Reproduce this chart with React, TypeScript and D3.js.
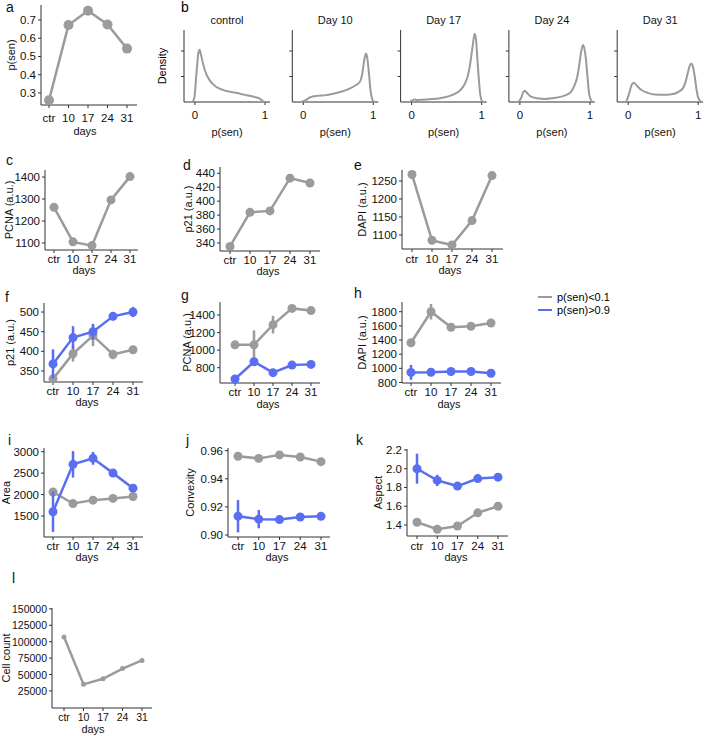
import React from "react";
import * as d3 from "d3";

// ---------------- data ----------------
const days = ["ctr", "10", "17", "24", "31"];

const pSen = [0.26, 0.672, 0.75, 0.675, 0.543];
const pcnaAll = [1262, 1105, 1088, 1296, 1402];
const p21All = [335, 384, 386, 433, 426];
const dapiAll = [1268, 1085, 1072, 1140, 1265];

const p21Low = [330, 394, 440, 392, 404];
const p21LowErr = [4, 20, 27, 12, 6];
const p21High = [368, 435, 450, 489, 500];
const p21HighErr = [37, 29, 20, 10, 13];

const pcnaLow = [1060, 1060, 1290, 1475, 1450];
const pcnaLowErr = [10, 165, 100, 15, 15];
const pcnaHigh = [672, 868, 744, 830, 838];
const pcnaHighErr = [8, 25, 12, 10, 10];

const dapiLow = [1362, 1800, 1580, 1595, 1640];
const dapiLowErr = [15, 110, 35, 15, 15];
const dapiHigh = [943, 945, 955, 955, 930];
const dapiHighErr = [105, 35, 15, 15, 15];

const areaLow = [2060, 1790, 1870, 1910, 1955];
const areaLowErr = [20, 80, 30, 30, 30];
const areaHigh = [1600, 2705, 2845, 2500, 2150];
const areaHighErr = [470, 310, 150, 90, 90];

const convLow = [0.956, 0.9545, 0.957, 0.9555, 0.9522];
const convLowErr = [0.0005, 0.0022, 0.0008, 0.0005, 0.0005];
const convHigh = [0.9134, 0.9113, 0.911, 0.9128, 0.9133];
const convHighErr = [0.0115, 0.0065, 0.002, 0.0008, 0.0012];

const aspectLow = [1.43, 1.355, 1.39, 1.53, 1.6];
const aspectLowErr = [0.01, 0.01, 0.01, 0.01, 0.01];
const aspectHigh = [2.0, 1.875, 1.815, 1.895, 1.91];
const aspectHighErr = [0.16, 0.06, 0.015, 0.015, 0.015];

const cellCount = [107000, 35000, 43500, 59000, 71500];

const densityTitles = ["control", "Day 10", "Day 17", "Day 24", "Day 31"];
const densityControl: [number, number][] = [[-0.04, 0], [-0.01, 0.3], [0.02, 2.2], [0.05, 3.9], [0.065, 4.1], [0.09, 3.6], [0.12, 2.9], [0.16, 2.2], [0.21, 1.7], [0.3, 1.2], [0.4, 0.95], [0.5, 0.8], [0.6, 0.7], [0.7, 0.58], [0.8, 0.47], [0.88, 0.35], [0.93, 0.25], [0.97, 0.08], [1.0, 0]];
const densityDay10: [number, number][] = [[-0.03, 0], [0.02, 0.1], [0.1, 0.37], [0.2, 0.48], [0.3, 0.52], [0.43, 0.65], [0.55, 0.82], [0.67, 1.07], [0.76, 1.35], [0.81, 1.6], [0.845, 2.3], [0.87, 3.3], [0.895, 3.8], [0.915, 3.4], [0.935, 2.4], [0.96, 0.9], [0.98, 0.3], [1.01, 0]];
const densityDay17: [number, number][] = [[-0.03, 0], [0.0, 0.1], [0.04, 0.2], [0.08, 0.15], [0.13, 0.18], [0.25, 0.22], [0.41, 0.3], [0.6, 0.6], [0.7, 0.95], [0.75, 1.33], [0.8, 2.0], [0.83, 2.77], [0.87, 4.3], [0.9, 5.35], [0.92, 4.9], [0.94, 3.3], [0.96, 1.8], [0.98, 0.6], [1.01, 0]];
const densityDay24: [number, number][] = [[-0.02, 0], [0.02, 0.35], [0.05, 0.8], [0.07, 0.89], [0.1, 0.72], [0.157, 0.42], [0.25, 0.3], [0.35, 0.24], [0.45, 0.3], [0.59, 0.42], [0.68, 0.6], [0.73, 0.8], [0.78, 1.3], [0.82, 2.0], [0.85, 3.0], [0.87, 3.8], [0.9, 4.47], [0.92, 4.2], [0.94, 3.5], [0.965, 2.0], [0.99, 0.6], [1.03, 0]];
const densityDay31: [number, number][] = [[-0.03, 0], [0.01, 0.6], [0.05, 1.35], [0.08, 1.52], [0.12, 1.3], [0.19, 0.94], [0.28, 0.72], [0.38, 0.58], [0.5, 0.56], [0.62, 0.6], [0.72, 0.8], [0.78, 1.07], [0.82, 1.6], [0.85, 2.25], [0.88, 2.85], [0.9, 3.03], [0.92, 2.85], [0.95, 2.0], [0.975, 1.0], [0.996, 0.4], [1.04, 0]];
const densities = [densityControl, densityDay10, densityDay17, densityDay24, densityDay31];

const legendLabels = ["p(sen)<0.1", "p(sen)>0.9"];

// ---------------- style ----------------
const GRAY = "#9b9b9b";
const BLUE = "#5a6ef2";
const AXIS = "#333";
const FONT = "'Liberation Sans', Arial, Helvetica, sans-serif";

type Series = { values: number[]; errs?: number[]; color: string };
type Panel = {
  label: string; lx: number; ly: number;
  axisX: number; endX: number; firstX: number; lastX: number;
  top: number; bottom: number; domain: [number, number];
  ticks: number[]; fmt: (v: number) => string;
  ylabel: string; ylabelX: number;
  tickY: number; daysY: number; daysX: number;
  r: number; lw: number; series: Series[]; fs?: number;
};

const f0 = (v: number) => d3.format("d")(v);
const f1 = (v: number) => d3.format(".1f")(v);
const f2 = (v: number) => d3.format(".2f")(v);

function LinePanel({ p }: { p: Panel }) {
  const x = d3.scalePoint<string>().domain(days).range([p.firstX, p.lastX]);
  const y = d3.scaleLinear().domain(p.domain).range([p.bottom, p.top]);
  const line = d3.line<number>().x((_, i) => x(days[i])!).y((d) => y(d));
  const fs = p.fs ?? 11.5;
  return (
    <g fontFamily={FONT} fill="#111">
      <text x={p.lx} y={p.ly} fontSize={14} dominantBaseline="central">{p.label}</text>
      <line x1={p.axisX} x2={p.axisX} y1={p.top} y2={p.bottom} stroke={AXIS} strokeWidth={1} />
      <line x1={p.axisX} x2={p.endX} y1={p.bottom} y2={p.bottom} stroke={AXIS} strokeWidth={1} />
      {p.ticks.map((t) => (
        <g key={t}>
          <line x1={p.axisX - 3} x2={p.axisX} y1={y(t)} y2={y(t)} stroke={AXIS} />
          <text x={p.axisX - 5} y={y(t)} fontSize={fs} textAnchor="end" dominantBaseline="central">{p.fmt(t)}</text>
        </g>
      ))}
      {days.map((d) => (
        <g key={d}>
          <line x1={x(d)} x2={x(d)} y1={p.bottom} y2={p.bottom + 3} stroke={AXIS} />
          <text x={x(d)} y={p.tickY} fontSize={fs} textAnchor="middle" dominantBaseline="central">{d}</text>
        </g>
      ))}
      <text x={p.daysX} y={p.daysY} fontSize={11} textAnchor="middle" dominantBaseline="central">days</text>
      <text transform={`translate(${p.ylabelX},${(p.top + p.bottom) / 2}) rotate(-90)`} fontSize={11} textAnchor="middle" dominantBaseline="central">{p.ylabel}</text>
      {p.series.map((s, si) => (
        <g key={si}>
          <path d={line(s.values)!} fill="none" stroke={s.color} strokeWidth={p.lw} />
          {s.errs && s.values.map((v, i) => (
            <line key={"e" + i} x1={x(days[i])} x2={x(days[i])} y1={y(v - s.errs![i])} y2={y(v + s.errs![i])} stroke={s.color} strokeWidth={2.5} />
          ))}
          {s.values.map((v, i) => (
            <circle key={"c" + i} cx={x(days[i])} cy={y(v)} r={p.r} fill={s.color} />
          ))}
        </g>
      ))}
    </g>
  );
}

function DensityPanel({ i }: { i: number }) {
  const ax = 184 + i * 108.3;
  const end = ax + 86;
  const top = 30, bottom = 102;
  const x = d3.scaleLinear().domain([-0.157, 1.071]).range([ax, end]);
  const y = d3.scaleLinear().domain([0, 5.65]).range([bottom, top]);
  const line = d3.line<[number, number]>().x((d) => x(d[0])).y((d) => y(d[1])).curve(d3.curveMonotoneX);
  return (
    <g fontFamily={FONT} fontSize={11} fill="#111">
      <text x={(ax + end) / 2} y={20} textAnchor="middle" dominantBaseline="central">{densityTitles[i]}</text>
      <line x1={ax} x2={ax} y1={top} y2={bottom} stroke={AXIS} />
      <line x1={ax} x2={end} y1={bottom} y2={bottom} stroke={AXIS} />
      {[2, 4].map((t) => (
        <line key={t} x1={ax - 3} x2={ax} y1={y(t)} y2={y(t)} stroke={AXIS} />
      ))}
      {[0, 1].map((t) => (
        <g key={t}>
          <line x1={x(t)} x2={x(t)} y1={bottom} y2={bottom + 3} stroke={AXIS} />
          <text x={x(t)} y={115} fontSize={11.5} textAnchor="middle" dominantBaseline="central">{t}</text>
        </g>
      ))}
      <text x={(ax + end) / 2} y={132} textAnchor="middle" dominantBaseline="central">p(sen)</text>
      <path d={line(densities[i])!} fill="none" stroke={GRAY} strokeWidth={2} />
    </g>
  );
}

const panels: Panel[] = [
  { label: "a", lx: 6, ly: 7, axisX: 41, endX: 137, firstX: 49, lastX: 127, top: 5, bottom: 105, domain: [0.234, 0.782], ticks: [0.3, 0.4, 0.5, 0.6, 0.7], fmt: f1, ylabel: "p(sen)", ylabelX: 11, tickY: 118, daysY: 131, daysX: 85, r: 5, lw: 2.5, series: [{ values: pSen, color: GRAY }] },
  { label: "c", lx: 6, ly: 160, axisX: 45, endX: 138, firstX: 54, lastX: 130, top: 170, bottom: 250, domain: [1068, 1432], ticks: [1100, 1200, 1300, 1400], fmt: f0, ylabel: "PCNA (a.u.)", ylabelX: 8.5, tickY: 259, daysY: 270, daysX: 84, r: 4.5, lw: 2.5, series: [{ values: pcnaAll, color: GRAY }] },
  { label: "d", lx: 183, ly: 165, axisX: 220, endX: 320, firstX: 230, lastX: 310, top: 167, bottom: 251, domain: [328.5, 449], ticks: [340, 360, 380, 400, 420, 440], fmt: f0, ylabel: "p21 (a.u.)", ylabelX: 188, tickY: 260, daysY: 271, daysX: 268, r: 4.5, lw: 2.5, series: [{ values: p21All, color: GRAY }] },
  { label: "e", lx: 354, ly: 165, axisX: 402, endX: 503, firstX: 412, lastX: 492, top: 170, bottom: 249, domain: [1061, 1280.6], ticks: [1100, 1150, 1200, 1250], fmt: f0, ylabel: "DAPI (a.u.)", ylabelX: 362, tickY: 258.5, daysY: 269.5, daysX: 450, r: 4.5, lw: 2.5, series: [{ values: dapiAll, color: GRAY }] },
  { label: "f", lx: 5, ly: 297, axisX: 44, endX: 143, firstX: 53, lastX: 133, top: 303, bottom: 382, domain: [322, 523], ticks: [350, 400, 450, 500], fmt: f0, ylabel: "p21 (a.u.)", ylabelX: 10, tickY: 390.5, daysY: 402, daysX: 87, r: 4.5, lw: 2.5, series: [{ values: p21Low, errs: p21LowErr, color: GRAY }, { values: p21High, errs: p21HighErr, color: BLUE }] },
  { label: "g", lx: 181, ly: 295, axisX: 220, endX: 320, firstX: 235, lastX: 311, top: 302, bottom: 383, domain: [626, 1548], ticks: [800, 1000, 1200, 1400], fmt: f0, ylabel: "PCNA (a.u.)", ylabelX: 186.5, tickY: 392, daysY: 403.5, daysX: 268, r: 4.5, lw: 2.5, series: [{ values: pcnaLow, errs: pcnaLowErr, color: GRAY }, { values: pcnaHigh, errs: pcnaHighErr, color: BLUE }] },
  { label: "h", lx: 354, ly: 293, axisX: 402, endX: 501, firstX: 411, lastX: 491, top: 302, bottom: 383, domain: [793, 1937], ticks: [800, 1000, 1200, 1400, 1600, 1800], fmt: f0, ylabel: "DAPI (a.u.)", ylabelX: 362, tickY: 392, daysY: 403.5, daysX: 449, r: 4.5, lw: 2.5, series: [{ values: dapiLow, errs: dapiLowErr, color: GRAY }, { values: dapiHigh, errs: dapiHighErr, color: BLUE }] },
  { label: "i", lx: 8, ly: 440, axisX: 44, endX: 143, firstX: 53, lastX: 133, top: 448, bottom: 537, domain: [1010, 3086], ticks: [1500, 2000, 2500, 3000], fmt: f0, ylabel: "Area", ylabelX: 6, tickY: 545.5, daysY: 557, daysX: 87, r: 4.5, lw: 2.5, series: [{ values: areaLow, errs: areaLowErr, color: GRAY }, { values: areaHigh, errs: areaHighErr, color: BLUE }] },
  { label: "j", lx: 186, ly: 440, axisX: 228, endX: 330, firstX: 238, lastX: 321, top: 448, bottom: 537, domain: [0.8986, 0.9619], ticks: [0.9, 0.92, 0.94, 0.96], fmt: f2, ylabel: "Convexity", ylabelX: 190, tickY: 545.5, daysY: 557, daysX: 277, r: 4.5, lw: 2.5, series: [{ values: convLow, errs: convLowErr, color: GRAY }, { values: convHigh, errs: convHighErr, color: BLUE }] },
  { label: "k", lx: 356, ly: 440, axisX: 407, endX: 508, firstX: 417, lastX: 498, top: 449, bottom: 536, domain: [1.283, 2.21], ticks: [1.4, 1.6, 1.8, 2.0, 2.2], fmt: f1, ylabel: "Aspect", ylabelX: 378, tickY: 545.5, daysY: 557, daysX: 456, r: 4.5, lw: 2.5, series: [{ values: aspectLow, errs: aspectLowErr, color: GRAY }, { values: aspectHigh, errs: aspectHighErr, color: BLUE }] },
  { label: "l", lx: 12, ly: 578, axisX: 52, endX: 152, firstX: 64, lastX: 142, top: 608, bottom: 708, domain: [-1000, 151300], ticks: [25000, 50000, 75000, 100000, 125000, 150000], fmt: f0, ylabel: "Cell count", ylabelX: 6, tickY: 717, daysY: 729, daysX: 93, r: 2.5, lw: 2.5, fs: 10.5, series: [{ values: cellCount, color: GRAY }] },
];

export default function App() {
  return (
    <svg width={708} height={736} style={{ position: "absolute", left: 0, top: 0, background: "#fff" }}>
      <rect width={708} height={736} fill="#fff" />
      <text x={181} y={7} fontFamily={FONT} fontSize={14} dominantBaseline="central">b</text>
      <text transform={`translate(162,66) rotate(-90)`} fontFamily={FONT} fontSize={11} textAnchor="middle" dominantBaseline="central">Density</text>
      {densityTitles.map((_, i) => <DensityPanel key={i} i={i} />)}
      {panels.map((p) => <LinePanel key={p.label} p={p} />)}
      <g fontFamily={FONT} fontSize={11}>
        {legendLabels.map((l, i) => (
          <g key={l}>
            <line x1={538} x2={552} y1={297 + i * 13} y2={297 + i * 13} stroke={i === 0 ? GRAY : BLUE} strokeWidth={2} />
            <text x={557} y={297 + i * 13} dominantBaseline="central">{l}</text>
          </g>
        ))}
      </g>
    </svg>
  );
}
